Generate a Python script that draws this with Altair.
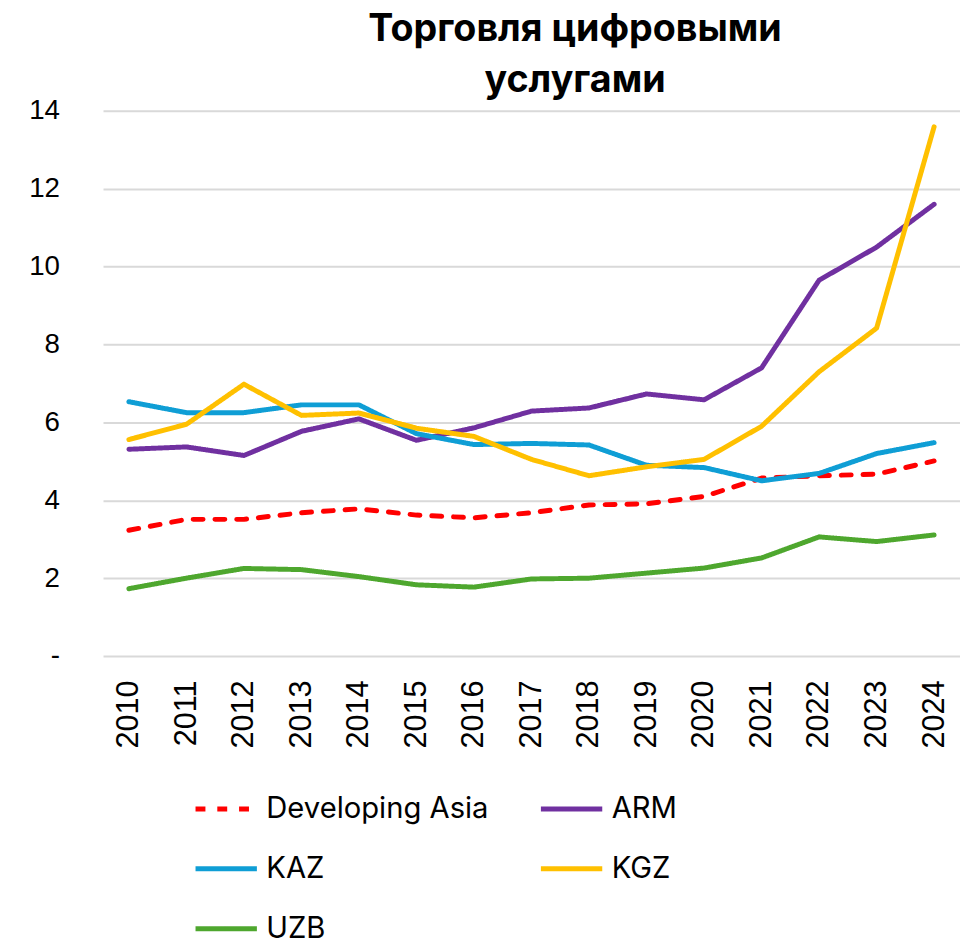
import altair as alt
import pandas as pd

years = [str(y) for y in range(2010, 2025)]
series = ["Developing Asia", "ARM", "KAZ", "KGZ", "UZB"]
colors = ["#FF0000", "#7030A0", "#0F9ED5", "#FFC000", "#4EA72E"]
dashes = [[10, 12], [1, 0], [1, 0], [1, 0], [1, 0]]

dev_asia = [3.23, 3.51, 3.51, 3.68, 3.78, 3.62, 3.55, 3.68, 3.88, 3.91, 4.10, 4.57, 4.63, 4.67, 5.01]
arm = [5.31, 5.37, 5.15, 5.77, 6.09, 5.54, 5.86, 6.29, 6.37, 6.73, 6.58, 7.40, 9.65, 10.50, 11.60]
kaz = [6.53, 6.25, 6.25, 6.45, 6.45, 5.71, 5.43, 5.46, 5.42, 4.90, 4.84, 4.50, 4.69, 5.20, 5.48]
kgz = [5.56, 5.95, 6.98, 6.18, 6.24, 5.85, 5.64, 5.05, 4.63, 4.86, 5.05, 5.90, 7.30, 8.42, 13.59]
uzb = [1.73, 2.00, 2.25, 2.22, 2.04, 1.83, 1.77, 1.98, 2.00, 2.13, 2.26, 2.52, 3.06, 2.94, 3.11]

rows = []
for name, vals in zip(series, [dev_asia, arm, kaz, kgz, uzb]):
    for i, (yr, v) in enumerate(zip(years, vals)):
        rows.append({"year": yr, "value": v, "series": name, "s_order": series.index(name)})
df = pd.DataFrame(rows)

legend = alt.Legend(
    title=None, orient="none", legendX=91, legendY=672, columns=2, direction="horizontal",
    symbolType="stroke", symbolSize=3844, symbolStrokeWidth=5,
    labelFont="Inter", labelFontSize=29.5, labelColor="#000000", labelOffset=7,
    labelLimit=400, columnPadding=42, rowPadding=12.5, padding=0,
)

chart = alt.Chart(df).mark_line(strokeWidth=5, strokeCap="round", strokeJoin="round").encode(
    x=alt.X("year:O", sort=years, scale=alt.Scale(type="point", padding=0.45),
            axis=alt.Axis(title=None, labelAngle=-90, labelFont="Liberation Sans", labelFontSize=31,
                          labelColor="#000000", labelPadding=24, ticks=False, domain=False, grid=False)),
    y=alt.Y("value:Q", scale=alt.Scale(domain=[0, 14]),
            axis=alt.Axis(title=None, values=list(range(0, 15, 2)), labelExpr="datum.value == 0 ? '-' : datum.label",
                          labelFont="Liberation Sans", labelFontSize=28, labelColor="#000000", labelPadding=44,
                          ticks=False, domain=False, gridColor="#D9D9D9", gridWidth=2)),
    color=alt.Color("series:N", scale=alt.Scale(domain=series, range=colors), legend=legend),
    strokeDash=alt.StrokeDash("series:N", scale=alt.Scale(domain=series, range=dashes), legend=legend),
    order=alt.Order("year:O"),
    detail="s_order:O",
).properties(
    width=866, height=551,
    title=alt.TitleParams(text=["Торговля цифровыми", "услугами"], font="Inter", fontSize=38, fontWeight="bold",
                          color="#000000", anchor="middle", dx=44, dy=3, lineHeight=52, offset=0),
    padding={"left": 96, "top": 99, "right": 0, "bottom": 281},
    autosize=alt.AutoSizeParams(type="none"),
).configure_view(stroke=None)

chart.save("out.html", embed_options={"renderer": "svg", "actions": False})
